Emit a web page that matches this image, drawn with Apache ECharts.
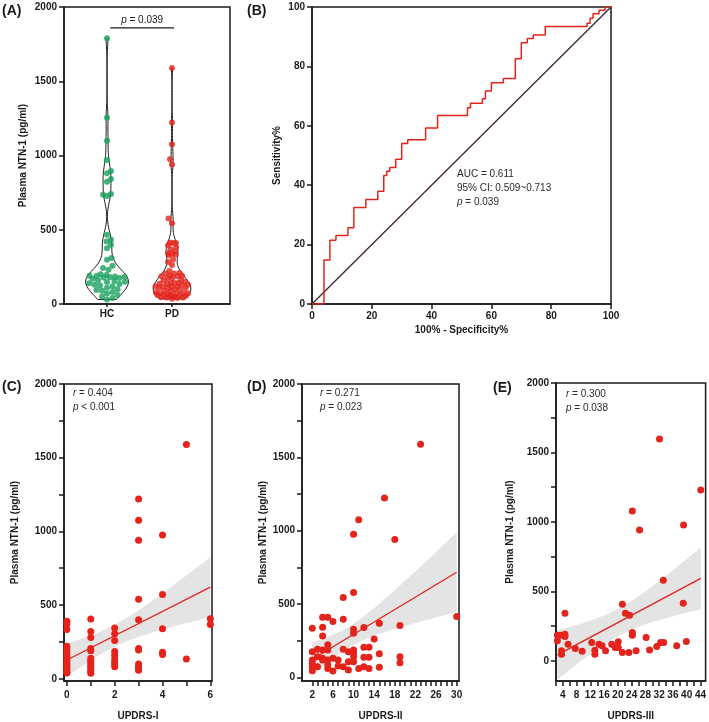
<!DOCTYPE html>
<html><head><meta charset="utf-8">
<script src="https://cdn.jsdelivr.net/npm/echarts@6/dist/echarts.min.js"></script>
<style>html,body{margin:0;padding:0;background:#fff}#c{width:709px;height:722px}</style>
</head><body><div id="c"></div>
<script>
// ---------------- DATA ----------------
const groups = ['HC', 'PD'];
const hcValues = [1790,1255,1100,970,895,880,842,824,740,735,728,466,432,421,399,376,309,298,257,242,230,
  200,195,190,188,185,183,180,178,175,170,160,155,150,148,140,135,130,125,120,110,100,95,90,80,70,60,50,40,30];
const pdValues = [1590,1222,1075,975,940,575,544,414,410,410,396,380,369,353,341,339,334,328,300,282,262,222,209,205,205,
  191,191,187,187,175,175,164,160,141,141,141,137,137,130,130,118,118,118,118,107,107,107,100,96,84,77,73,73,73,73,
  68,61,61,61,60,50,50,45,43,43,40,35,55,90,150];

const rocFpr = [0,4,6,8,12,14,18,22,24,25,26,28,30,32,38,42,52,53,57,58,60,64,68,70,72,74,78,92,93,94,96,98,100];
const rocTpr = [0,14.8,21.5,23.1,25.7,32.5,35.2,38.0,43.3,44.7,46.0,48.7,54.0,55.3,59.3,63.5,66.1,67.6,69.1,71.7,74.5,75.9,82.6,88.0,89.4,90.6,93.4,94.5,96.2,97.7,98.9,100,100];
const rocText = ['AUC = 0.611', '95% CI: 0.509~0.713', 'p = 0.039'];

const updrs1X = [0,0,0,0,0,0,0,0,0,0,0,0,0,0,0, 1,1,1,1,1,1,1,1,1,1,1,1,1, 2,2,2,2,2,2,2,2,2, 3,3,3,3,3,3,3,3,3,3,3, 4,4,4,4,4, 5,5, 6,6];
const updrs1Y = [390,372,335,220,205,185,165,145,125,110,95,80,65,50,40,
  405,320,280,205,190,140,125,110,95,80,65,50,38,
  345,305,260,185,160,135,115,100,82,
  1220,1075,940,540,400,205,195,100,85,70,58,
  975,572,340,180,165, 1590,135, 408,368];
const updrs2X = [2,2,2,2,2,2, 3,3,3, 4,4,4,4,4,4, 5,5,5,5,5,5, 6,6,6, 7,7, 8,8,8,8, 9,9,9,
  10,10,10,10,10,10,10,10, 11,11, 12,12,12,12, 13,13,13, 14, 15,15,15, 16, 18, 19,19,19, 23, 30];
const updrs2Y = [334,175,118,96,73,45, 191,141,73, 410,341,282,187,130,118, 410,222,187,118,84,60, 380,130,43, 118,77,
  544,396,191,73, 175,107,50, 975,578,328,300,187,164,141,107, 1075,61, 339,205,137,73, 205,137,61, 262,
  369,160,68, 1222, 940, 353,141,100, 1590, 414];
const updrs3X = [2.4,3.3,4.6,2.4,4.6,3.6,3.6,5.5,4.6,7.6,9.6,12.4,13.3,13.3,14.5,15.4,16.4,18.2,19.2,20.1,20.1,21.3,21.3,
  22.2,23.4,23.2,24.2,24.2,25.3,28.2,29.2,31.3,32.4,33.3,37.1,39.0,39.9,32.1,24.2,26.3,39.1,44.1,33.2];
const updrs3Y = [184,184,192,144,175,72,48,120,342,89,69,132,77,48,120,108,72,120,96,96,137,407,60,
  342,328,60,204,184,72,168,79,103,132,133,108,414,139,1597,1078,941,977,1229,580];
const corrText = [['r = 0.404', 'p < 0.001'], ['r = 0.271', 'p = 0.023'], ['r = 0.300', 'p = 0.038']];

const yTicks = [0,250,500,750,1000,1250,1500,1750,2000];
const yLabels = [0,500,1000,1500,2000];

// ---------------- STYLE ----------------
const FONT = '"Liberation Sans", Arial, Helvetica, sans-serif';
const INK = '#1a1a1a';
const RED = '#e3241d';
const GREEN = '#17a05a';

function range(a, b, s) { const r = []; for (let v = a; v <= b + 1e-9; v += s) r.push(+v.toFixed(6)); return r; }

function axis(o) {
  return {
    type: 'value', gridIndex: o.grid, min: o.min, max: o.max,
    interval: o.interval,
    name: o.name || '', nameLocation: 'middle', nameGap: o.nameGap || 20, nameRotate: o.nameRotate,
    nameTextStyle: { fontFamily: FONT, fontWeight: 'bold', fontSize: 10, color: INK },
    axisLine: { show: true, onZero: false, lineStyle: { color: INK, width: 1.5 } },
    axisTick: { show: true, length: o.tickLen == null ? 5 : o.tickLen, lineStyle: { color: INK, width: 1.5 },
      customValues: o.ticks },
    axisLabel: { show: true, color: INK, fontSize: 10, fontWeight: 'bold', fontFamily: FONT, margin: o.margin || 7,
      customValues: o.labels, formatter: o.formatter || (v => String(v)), hideOverlap: false },
    splitLine: { show: false }
  };
}

const grids = [
  { left: 64, top: 7, width: 166, height: 297 },
  { left: 312, top: 7, width: 299, height: 297 },
  { left: 64, top: 384, width: 148, height: 297 },
  { left: 302, top: 384, width: 157, height: 297 },
  { left: 556, top: 383, width: 151, height: 299 }
].map(g => Object.assign({ show: true, borderColor: INK, borderWidth: 1.5, backgroundColor: 'transparent', containLabel: false }, g));

const xAxes = [
  axis({ grid: 0, min: 0.338, max: 2.892, ticks: [1, 2], labels: [1, 2], formatter: v => groups[Math.round(v) - 1] || '', margin: 5, tickLen: 3 }),
  axis({ grid: 1, min: 0, max: 100, interval: 20, name: '100% - Specificity%', nameGap: 21 }),
  axis({ grid: 2, min: -0.12, max: 6.07, ticks: range(0, 6, 1), labels: [0, 2, 4, 6], name: 'UPDRS-I', nameGap: 30, margin: 9 }),
  axis({ grid: 3, min: 0, max: 30.45, ticks: range(2, 30, 1), labels: range(2, 30, 4), name: 'UPDRS-II', nameGap: 30, margin: 9 }),
  axis({ grid: 4, min: 2, max: 45.5, ticks: range(2, 44, 2), labels: range(4, 44, 4), name: 'UPDRS-III', nameGap: 30, margin: 9 })
];
const yName = 'Plasma NTN-1 (pg/ml)';
const yAxes = [
  axis({ grid: 0, min: 0, max: 2000, ticks: yLabels, labels: yLabels, name: yName, nameGap: 36, nameRotate: 90, margin: 7 }),
  axis({ grid: 1, min: 0, max: 100, interval: 20, name: 'Sensitivity%', nameGap: 30, nameRotate: 90 }),
  axis({ grid: 2, min: -15, max: 2000, ticks: yTicks, labels: yLabels, name: yName, nameGap: 44, nameRotate: 90 }),
  axis({ grid: 3, min: -25, max: 2000, ticks: yTicks, labels: yLabels, name: yName, nameGap: 34, nameRotate: 90 }),
  axis({ grid: 4, min: -145, max: 2000, ticks: yTicks, labels: yLabels, name: yName, nameGap: 41, nameRotate: 90 })
];

// ---------------- DERIVED (violin density & regression) ----------------
function kde(vals, h, steps) {
  const lo = Math.min(...vals), hi = Math.max(...vals), out = [];
  for (let i = 0; i <= steps; i++) {
    const v = lo + (hi - lo) * i / steps; let d = 0;
    for (const x of vals) { const z = (v - x) / h; d += Math.exp(-0.5 * z * z); }
    out.push([v, d]);
  }
  const m = Math.max(...out.map(o => o[1]));
  return out.map(o => [o[0], o[1] / m]);
}
function profAt(prof, v) {
  if (v <= prof[0][0]) return prof[0][1];
  for (let i = 1; i < prof.length; i++) if (prof[i][0] >= v) {
    const t = (v - prof[i - 1][0]) / (prof[i][0] - prof[i - 1][0]);
    return prof[i - 1][1] + t * (prof[i][1] - prof[i - 1][1]);
  }
  return prof[prof.length - 1][1];
}
const violinProfiles = [kde(hcValues, 62, 160), kde(pdValues, 50, 160)];
const violinHalfWidth = [0.33, 0.29];

function linfit(xs, ys) {
  const n = xs.length;
  const mx = xs.reduce((a, b) => a + b, 0) / n, my = ys.reduce((a, b) => a + b, 0) / n;
  let sxx = 0, sxy = 0;
  for (let i = 0; i < n; i++) { sxx += (xs[i] - mx) ** 2; sxy += (xs[i] - mx) * (ys[i] - my); }
  const b = sxy / sxx, a = my - b * mx;
  let sse = 0; for (let i = 0; i < n; i++) sse += (ys[i] - a - b * xs[i]) ** 2;
  const df = n - 2, s = Math.sqrt(sse / df), t = 1.96 + 2.4 / df + 2.9 / (df * df);
  const x0 = Math.min(...xs), x1 = Math.max(...xs);
  const upper = [], lower = [], N = 60;
  for (let i = 0; i <= N; i++) {
    const x = x0 + (x1 - x0) * i / N, yh = a + b * x;
    const se = s * Math.sqrt(1 / n + (x - mx) ** 2 / sxx);
    upper.push([x, yh + t * se]); lower.push([x, yh - t * se]);
  }
  return { line: [[x0, a + b * x0], [x1, a + b * x1]], upper, lower };
}

function corrSeries(k, xs, ys) {
  const f = linfit(xs, ys);
  return [
    { type: 'custom', xAxisIndex: k, yAxisIndex: k, data: [[0]], clip: true, silent: true, z: 1,
      renderItem: (p, api) => {
        const pts = f.upper.map(q => api.coord(q)).concat(f.lower.slice().reverse().map(q => api.coord(q)));
        return { type: 'polygon', shape: { points: pts }, style: { fill: '#e4e4e4', stroke: 'none' } };
      } },
    { type: 'line', xAxisIndex: k, yAxisIndex: k, data: f.line, showSymbol: false, silent: true, z: 2,
      lineStyle: { color: RED, width: 1.3 } },
    { type: 'scatter', xAxisIndex: k, yAxisIndex: k, data: xs.map((x, i) => [x, ys[i]]), symbolSize: 7, z: 3,
      itemStyle: { color: RED, opacity: 1 } }
  ];
}

const series = [
  { type: 'custom', id: 'violin', xAxisIndex: 0, yAxisIndex: 0, data: [[1], [2]], silent: true, z: 1,
    renderItem: (p, api) => {
      const g = p.dataIndex, prof = violinProfiles[g], cx = g + 1, hw = violinHalfWidth[g];
      const right = prof.map(([v, d]) => api.coord([cx + d * hw, v]));
      const left = prof.slice().reverse().map(([v, d]) => api.coord([cx - d * hw, v]));
      return { type: 'polygon', shape: { points: right.concat(left) }, style: { fill: 'none', stroke: INK, lineWidth: 1 } };
    } },
  { type: 'scatter', id: 'hcDots', xAxisIndex: 0, yAxisIndex: 0, data: hcValues.map(v => [1, v]), symbolSize: 6, z: 3,
    itemStyle: { color: GREEN } },
  { type: 'scatter', id: 'pdDots', xAxisIndex: 0, yAxisIndex: 0, data: pdValues.map(v => [2, v]), symbolSize: 6, z: 3,
    itemStyle: { color: RED } },
  { type: 'custom', id: 'sig', xAxisIndex: 0, yAxisIndex: 0, data: [[1, 2, 1860]], silent: true, z: 4,
    renderItem: (p, api) => {
      const a = api.coord([api.value(0) + 0.05, api.value(2)]), b = api.coord([api.value(1) + 0.03, api.value(2)]);
      return { type: 'group', children: [
        { type: 'line', shape: { x1: a[0], y1: a[1], x2: b[0], y2: b[1] }, style: { stroke: INK, lineWidth: 1.2 } },
        { type: 'text', x: (a[0] + b[0]) / 2, y: a[1] - 3, style: { text: '{i|p} = 0.039', rich: { i: { fontStyle: 'italic', fontFamily: FONT, fontSize: 10 } },
          fontFamily: FONT, fontSize: 10, fill: INK, align: 'center', verticalAlign: 'bottom' } }
      ] };
    } },
  { type: 'line', xAxisIndex: 1, yAxisIndex: 1, data: [[0, 0], [100, 100]], showSymbol: false, silent: true, z: 2,
    lineStyle: { color: '#3d2632', width: 1.3 } },
  { type: 'line', xAxisIndex: 1, yAxisIndex: 1, data: rocFpr.map((x, i) => [x, rocTpr[i]]), step: 'end', showSymbol: false, silent: true, z: 3,
    lineStyle: { color: RED, width: 1.5 } },
  ...corrSeries(2, updrs1X, updrs1Y),
  ...corrSeries(3, updrs2X, updrs2Y),
  ...corrSeries(4, updrs3X, updrs3Y)
];

function txt(x, y, text, extra) {
  return { type: 'text', x, y, silent: true, z: 10, style: Object.assign({ text, fontFamily: FONT, fontSize: 10, fill: '#2a2a2a' }, extra || {}) };
}
const letter = (x, y, t) => txt(x, y, t, { fontSize: 14, fontWeight: 'bold', fill: INK, verticalAlign: 'middle' });
const richI = { i: { fontStyle: 'italic', fontFamily: FONT, fontSize: 10, fill: '#2a2a2a' } };
const corrPos = [[73, 388], [320, 388], [566, 389]];
const graphics = [
  letter(2, 11, '(A)'), letter(247, 11, '(B)'), letter(2, 387, '(C)'), letter(247, 387, '(D)'), letter(493, 388, '(E)'),
  txt(457, 169, rocText[0]), txt(457, 183, rocText[1]), txt(457, 197, '{i|p} = 0.039', { rich: richI })
];
corrText.forEach((pair, k) => {
  graphics.push(txt(corrPos[k][0], corrPos[k][1], '{i|' + pair[0].slice(0, 1) + '}' + pair[0].slice(1), { rich: richI }));
  graphics.push(txt(corrPos[k][0], corrPos[k][1] + 14, '{i|' + pair[1].slice(0, 1) + '}' + pair[1].slice(1), { rich: richI }));
});

const chart = echarts.init(document.getElementById('c'), null, { renderer: 'canvas' });
chart.setOption({ animation: false, backgroundColor: '#fff', grid: grids, xAxis: xAxes, yAxis: yAxes, series, graphic: graphics });

// beeswarm layout of the dots inside the violins (pixel space through the axis scales)
const p0 = chart.convertToPixel({ xAxisIndex: 0, yAxisIndex: 0 }, [1, 0]);
const p1 = chart.convertToPixel({ xAxisIndex: 0, yAxisIndex: 0 }, [2, 2000]);
const pxPerX = p1[0] - p0[0], pxPerY = (p0[1] - p1[1]) / 2000;
function swarm(vals, prof, hw, d) {
  const idx = vals.map((v, i) => i).sort((a, b) => vals[a] - vals[b]);
  const placed = [], dx = new Array(vals.length);
  idx.forEach((i, n) => {
    const v = vals[i], y = v * pxPerY;
    const lim = Math.max(4, profAt(prof, v) * hw * pxPerX - 1.5);
    let best = 0, bestScore = -1, done = false;
    for (let k = 0; k <= lim && !done; k += 0.5) {
      const c = k === 0 ? [0] : (n % 2 ? [k, -k] : [-k, k]);
      for (const cand of c) {
        let md = Infinity;
        for (const p of placed) md = Math.min(md, Math.hypot(p.x - cand, p.y - y));
        if (md >= d) { best = cand; done = true; break; }
        if (md > bestScore + 0.01) { bestScore = md; best = cand; }
      }
    }
    dx[i] = best; placed.push({ x: best, y });
  });
  return dx;
}
const hcDx = swarm(hcValues, violinProfiles[0], violinHalfWidth[0], 5.5);
const pdDx = swarm(pdValues, violinProfiles[1], violinHalfWidth[1], 5.5);
chart.setOption({ series: [
  { id: 'hcDots', data: hcValues.map((v, i) => [1 + hcDx[i] / pxPerX, v]) },
  { id: 'pdDots', data: pdValues.map((v, i) => [2 + pdDx[i] / pxPerX, v]) }
] });
</script></body></html>
